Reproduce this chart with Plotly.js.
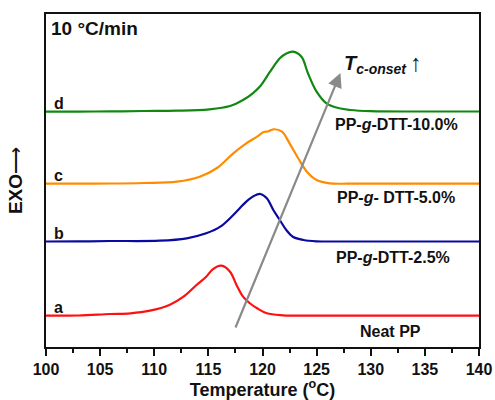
<!DOCTYPE html>
<html>
<head>
<meta charset="utf-8">
<script src="https://cdn.plot.ly/plotly-3.0.1.min.js"></script>
<style>html,body{margin:0;padding:0;background:#fff;}#chart{width:495px;height:400px;}</style>
</head>
<body>
<div id="chart"></div>
<script>
// Curve a: Neat PP
const tempA = [100,103,105.9,107.8,109.6,111.4,112.7,113.9,114.8,115.4,116.2,117,117.6,118.2,118.8,119.5,120.4,121.9,124,128,134,140];
const valA  = [31.3,31.5,33,33.7,36.3,42,50.3,62,70.3,77.7,81.3,75.3,62,50.3,44,38.7,33.7,31.7,31.3,31.3,31.3,31.3];
// Curve b: PP-g-DTT-2.5%
const tempB = [100,103,105.9,110.5,113,114.8,116.1,117.3,118.5,119.2,119.8,120.4,121,121.6,122.2,122.8,123.8,125,127,131,136,140];
const valB  = [105.5,105.6,106,106.3,108.7,113.7,120.3,132,145.3,151,153,148.7,137,127,117,110.3,107,105.7,105.5,105.5,105.5,105.5];
// Curve c: PP-g-DTT-5.0%
const tempC = [100,103,106,109,112.1,114.2,115.8,117.3,118.5,119.5,120.1,120.5,121,121.8,122.5,123.3,124.1,125,126.2,128,133,140];
const valC  = [163.3,163.4,163.5,164,165.3,170.3,179,193.7,203.7,210.3,215,215.5,217.7,215.3,203.7,188.7,175.3,167,163.7,163.3,163.3,163.3];
// Curve d: PP-g-DTT-10.0%
const tempD = [100,103,106,109,112.1,115.1,117,118.2,119.1,119.8,120.7,121.6,122.2,122.8,123.6,124.2,125,125.9,127.1,128.1,130,135,140];
const valD  = [235.3,235.4,235.6,236,236.3,237.7,241,247,253.7,261,275.3,288.7,293.5,295.3,290.3,273.7,255.3,243.7,238.7,237,235.8,235.5,235.5];

const curveLetters = ['a','b','c','d'];
const letterY = [40,114,172,244];
const sampleNames = ['Neat PP','PP-<i>g</i>-DTT-2.5%','PP-<i>g</i>- DTT-5.0%','PP-<i>g</i>-DTT-10.0%'];
const nameT = [131.8,132.1,132.3,132.4];
const nameY = [16,90,150,223];
const xTickVals = [100,105,110,115,120,125,130,135,140];
// Tc-onset trend arrow (tail, head)
const arrowT = [117.45, 127.2];
const arrowV = [18, 274];

const FONT = 'Arial, "Liberation Sans", sans-serif';
const colors = ['#ff1010','#0a0aa0','#ff8c00','#118811'];
const temps = [tempA,tempB,tempC,tempD];
const vals = [valA,valB,valC,valD];

const traces = temps.map((t,i)=>({
  x: t, y: vals[i], type:'scatter', mode:'lines',
  line:{color:colors[i], width:2.2, shape:'spline', smoothing:1},
  hoverinfo:'skip', showlegend:false
}));

const annotations = [];
curveLetters.forEach((l,i)=>annotations.push({
  x:100.55, y:letterY[i], xref:'x', yref:'y', text:'<b>'+l+'</b>', showarrow:false,
  xanchor:'left', yanchor:'middle', font:{family:FONT, size:16, color:'#111'}
}));
sampleNames.forEach((n,i)=>annotations.push({
  x:nameT[i], y:nameY[i], xref:'x', yref:'y', text:'<b>'+n+'</b>', showarrow:false,
  xanchor:'center', yanchor:'middle', font:{family:FONT, size:16, color:'#111'}
}));
annotations.push({
  x:arrowT[1], y:arrowV[1], ax:arrowT[0], ay:arrowV[0], xref:'x', yref:'y', axref:'x', ayref:'y',
  text:'', showarrow:true, arrowhead:2, arrowsize:1.3, arrowwidth:2.2, arrowcolor:'#8a8a8a', standoff:0
});
annotations.push({
  x:0.008, y:0.995, xref:'paper', yref:'paper', text:'<b>10 °C/min</b>', showarrow:false,
  xanchor:'left', yanchor:'top', font:{family:FONT, size:19, color:'#111'}
});
annotations.push({
  x:127.3, y:283, xref:'x', yref:'y', xanchor:'left', yanchor:'middle', showarrow:false,
  text:'<b><i>T</i></b><sub><b><i>c-onset</i></b></sub>',
  font:{family:FONT, size:20, color:'#111'}
});
annotations.push({
  x:134.2, y:285, xref:'x', yref:'y', xanchor:'center', yanchor:'middle', showarrow:false,
  text:'↑', font:{family:FONT, size:24, color:'#111'}
});

const layout = {
  width:495, height:400,
  margin:{l:46, r:16, t:14, b:53},
  paper_bgcolor:'#fff', plot_bgcolor:'#fff',
  font:{family:FONT, color:'#111'},
  xaxis:{
    range:[100,140], tickvals:xTickVals, ticks:'outside', ticklen:7, tickwidth:2, tickcolor:'#111',
    minor:{dtick:2.5, tick0:100, ticks:'outside', ticklen:4, tickwidth:2, tickcolor:'#111'},
    showline:true, linewidth:2, linecolor:'#111', mirror:true, showgrid:false, zeroline:false,
    tickfont:{family:FONT, size:16, color:'#111', weight:'bold'},
    title:{text:'<b>Temperature (<sup>o</sup>C)</b>', font:{family:FONT, size:18, color:'#111'}, standoff:9}
  },
  yaxis:{
    range:[0,333], showticklabels:false, ticks:'', showline:true, linewidth:2, linecolor:'#111',
    mirror:true, showgrid:false, zeroline:false,
    title:{text:'<b>EXO</b>⟶', font:{family:FONT, size:19, color:'#111'}, standoff:16}
  },
  annotations: annotations
};

Plotly.newPlot('chart', traces, layout, {staticPlot:true, displayModeBar:false});
</script>
</body>
</html>
